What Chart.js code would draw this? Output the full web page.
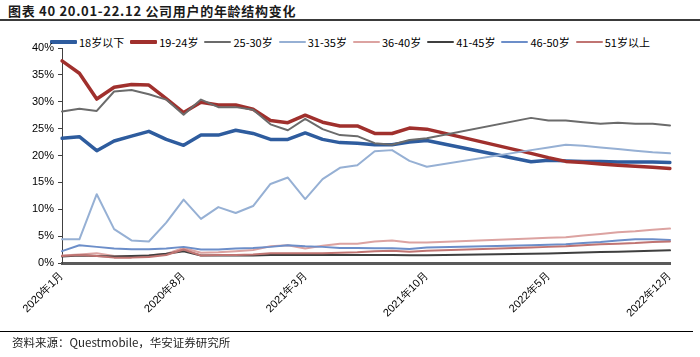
<!DOCTYPE html>
<html>
<head>
<meta charset="utf-8">
<script src="https://cdn.jsdelivr.net/npm/chart.js@4.4.1/dist/chart.umd.min.js"></script>
<style>
  html, body { margin:0; padding:0; background:#fff; }
  #wrap { position:relative; width:700px; height:357px; overflow:hidden; background:#fff; }
  #title { position:absolute; left:8px; top:1px; font:bold 13px 'Noto Sans CJK SC', sans-serif; letter-spacing:0.7px; color:#1a1a1a; white-space:nowrap; }
  #tline { position:absolute; left:0; top:19px; width:700px; height:2px; background:#3a3a3a; }
  #legend { position:absolute; left:50px; top:34px; height:16px; display:flex; align-items:center; font:11px 'Noto Sans CJK SC', sans-serif; color:#000; white-space:nowrap; }
  .li { display:flex; align-items:center; margin-right:6px; }
  .ln { width:27px; margin-right:2px; border-radius:1px; }
  #chart { position:absolute; left:0; top:0; }
  #fline { position:absolute; left:0; top:331px; width:693px; height:1px; background:#000; }
  #source { position:absolute; left:12px; top:334px; font:11.5px 'Noto Sans CJK SC', sans-serif; color:#222; white-space:nowrap; }
</style>
</head>
<body>
<div id="wrap">
  <div id="title">图表 40 20.01-22.12 公司用户的年龄结构变化</div>
  <div id="tline"></div>
  <div id="legend"></div>
  <canvas id="chart" width="700" height="357"></canvas>
  <div id="fline"></div>
  <div id="source">资料来源：Questmobile，华安证券研究所</div>
</div>
<script>
// ---- data ----
const months = [
  '2020年1月','2020年2月','2020年3月','2020年4月','2020年5月','2020年6月','2020年7月','2020年8月','2020年9月','2020年10月','2020年11月','2020年12月',
  '2021年1月','2021年2月','2021年3月','2021年4月','2021年5月','2021年6月','2021年7月','2021年8月','2021年9月','2021年10月','2021年11月','2021年12月',
  '2022年1月','2022年2月','2022年3月','2022年4月','2022年5月','2022年6月','2022年7月','2022年8月','2022年9月','2022年10月','2022年11月','2022年12月'
];
const tickLabels = ['2020年1月','2020年8月','2021年3月','2021年10月','2022年5月','2022年12月'];
const seriesNames = ['18岁以下','19-24岁','25-30岁','31-35岁','36-40岁','41-45岁','46-50岁','51岁以上'];

const age18Below = [23.2,23.5,20.9,22.7,23.6,24.5,23.0,21.9,23.8,23.8,24.7,24.1,23.0,23.0,24.2,23.0,22.4,22.3,22.0,22.0,22.5,22.8,null,null,null,null,null,18.85,19.1,19.0,18.9,18.9,18.8,18.8,18.8,18.7];
const age19to24  = [37.6,35.3,30.5,32.7,33.2,33.1,30.6,28.0,29.9,29.4,29.4,28.6,26.5,26.1,27.5,26.2,25.5,25.5,24.1,24.1,25.1,24.9,null,null,null,null,null,20.4,19.6,18.9,18.7,18.4,18.2,18.0,17.8,17.6];
const age25to30  = [28.2,28.7,28.3,31.9,32.2,31.4,30.4,27.6,30.4,29.0,29.0,28.5,25.8,24.7,26.8,24.9,23.8,23.6,22.3,22.0,22.9,23.2,null,null,null,null,null,27.0,26.5,26.5,26.2,25.9,26.1,25.9,25.9,25.6];
const age31to35  = [4.4,4.4,12.8,6.3,4.2,4.0,7.5,11.8,8.2,10.4,9.3,10.6,14.7,15.9,11.9,15.6,17.7,18.2,20.8,21.0,19.0,17.9,null,null,null,null,null,21.0,21.5,22.0,21.8,21.5,21.2,20.9,20.6,20.4];
const age36to40  = [1.4,1.6,1.8,1.3,1.2,1.4,1.7,2.8,1.9,2.0,2.2,2.4,3.1,3.3,2.7,3.2,3.6,3.6,4.0,4.2,3.8,3.8,null,null,null,null,null,4.55,4.7,4.8,5.1,5.4,5.7,5.9,6.2,6.4];
const age41to45  = [1.2,1.4,1.3,1.2,1.3,1.4,1.7,2.2,1.4,1.4,1.4,1.4,1.5,1.5,1.5,1.5,1.5,1.5,1.5,1.5,1.45,1.45,null,null,null,null,null,1.7,1.75,1.85,1.95,2.05,2.1,2.2,2.3,2.35];
const age46to50  = [2.2,3.3,3.0,2.7,2.55,2.55,2.7,3.0,2.5,2.5,2.7,2.8,3.0,3.3,3.1,3.0,2.8,2.8,2.75,2.75,2.6,2.9,null,null,null,null,null,3.3,3.4,3.5,3.7,3.9,4.2,4.4,4.4,4.3];
const age51Above = [1.3,1.5,1.3,1.0,1.0,1.1,1.5,2.5,1.4,1.5,1.5,1.6,1.8,1.8,1.8,1.8,1.9,2.0,2.2,2.3,2.1,2.3,null,null,null,null,null,2.9,3.0,3.1,3.3,3.5,3.6,3.7,3.9,4.0];
const yTickValues = [0,5,10,15,20,25,30,35,40];

// ---- styles ----
const colors = ['#2e5c9e','#a0302d','#6b6b6b','#96b0d4','#dca3a1','#3f3f3f','#6c8ec9','#c07472'];
const widths = [3.5,3.5,2,2,2,2,2,2];
const legendWidths = [4,4,2.5,2.5,2.5,2.5,2.5,2.5];
const seriesData = [age18Below,age19to24,age25to30,age31to35,age36to40,age41to45,age46to50,age51Above];

// legend (HTML)
const lg = document.getElementById('legend');
seriesNames.forEach((n,i)=>{
  const it = document.createElement('div'); it.className='li';
  const ln = document.createElement('div'); ln.className='ln';
  ln.style.height = legendWidths[i]+'px'; ln.style.background = colors[i];
  const tx = document.createElement('span'); tx.textContent = n;
  it.appendChild(ln); it.appendChild(tx); lg.appendChild(it);
});

const tickFont = {family:"'Liberation Sans Narrow','Liberation Sans', Arial, sans-serif", size:11};

new Chart(document.getElementById('chart'), {
  type:'line',
  data:{
    labels: months,
    datasets: seriesNames.map((n,i)=>({
      label:n, data:seriesData[i], borderColor:colors[i], backgroundColor:colors[i],
      borderWidth:widths[i], pointRadius:0, tension:0, spanGaps:true, fill:false,
      order:-i, borderJoinStyle:'round', borderCapStyle:'round'
    }))
  },
  options:{
    responsive:false, animation:false, devicePixelRatio:1,
    layout:{padding:{top:48,left:12,right:30,bottom:24}},
    plugins:{legend:{display:false}, tooltip:{enabled:false}, title:{display:false}},
    scales:{
      x:{
        type:'category', offset:false,
        grid:{display:false, drawTicks:false},
        border:{display:true, color:'#5a5a5a', width:3},
        ticks:{autoSkip:false, maxRotation:45, minRotation:45, padding:6, color:'#000', font:tickFont,
          callback:function(v){ const l=this.getLabelForValue(v); return tickLabels.includes(l)?l:''; }},
        afterFit:s=>{ s.height=70; }
      },
      y:{
        min:0, max:40,
        afterBuildTicks:s=>{ s.ticks = yTickValues.map(v=>({value:v})); },
        grid:{display:true, drawOnChartArea:false, drawTicks:true, tickLength:4, color:'#404040'},
        border:{display:true, color:'#404040', width:1},
        ticks:{padding:4, color:'#000', font:tickFont, callback:v=>v+'%'},
        afterFit:s=>{ s.width=50; }
      }
    }
  }
});
</script>
</body>
</html>
